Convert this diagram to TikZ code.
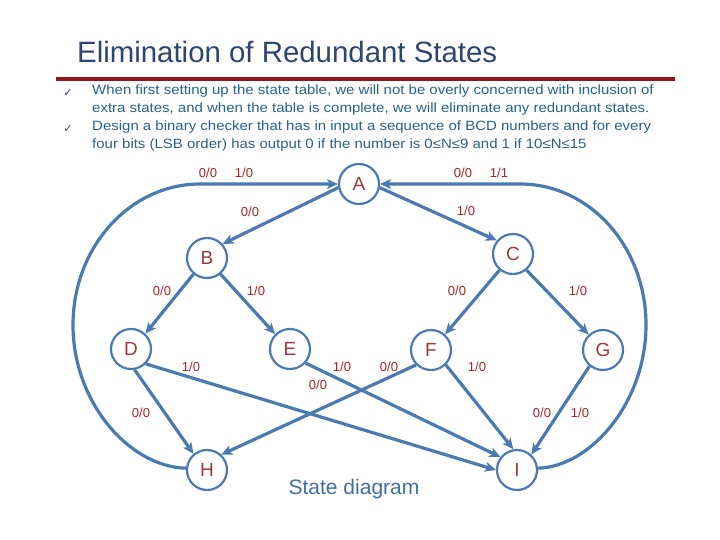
\documentclass[tikz,border=0pt]{standalone}
\usepackage{fontspec}
\setmainfont{Liberation Sans}
\newfontfamily\widefont{Liberation Sans}[FakeStretch=1.11]
\newfontfamily\symfont{DejaVu Sans}
\usetikzlibrary{arrows.meta,positioning}

\definecolor{edgeblue}{RGB}{74,122,178}
\definecolor{lblred}{RGB}{168,36,40}
\definecolor{statered}{RGB}{158,58,60}
\definecolor{titlenavy}{RGB}{44,70,112}
\definecolor{textblue}{RGB}{38,98,140}
\definecolor{checkpurple}{RGB}{84,52,140}
\definecolor{rulered}{RGB}{150,20,26}

\begin{document}
\begin{tikzpicture}[x=1pt, y=-1pt,
  state/.style={circle, draw=edgeblue, line width=2.2pt, minimum size=40pt, inner sep=0pt, text=statered, font=\fontsize{19}{19}\selectfont},
  trans/.style={draw=edgeblue, line width=3.2pt, -{Stealth[length=11pt,width=10pt,inset=3pt]}},
  lbl/.style={text=lblred, font=\fontsize{13}{13}\selectfont, inner sep=0pt},
  bullet/.style={text=textblue, anchor=west, align=left, inner sep=0pt, font=\widefont\fontsize{13.5}{18}\selectfont},
  checkmark/.style={text=checkpurple, inner sep=0pt, font=\symfont\fontsize{11}{11}\selectfont}]

    \useasboundingbox (0,0) rectangle (720,540);

    % heading
    \node[text=titlenavy, anchor=west, inner sep=0pt, font=\fontsize{29.4}{29}\selectfont] (title) at (77,52) {Elimination of Redundant States};
    \draw[rulered, line width=4pt] (56,79) -- (675,79);

    \node[checkmark] (checkA) at (68,93) {✓};
    \node[bullet, anchor=north west] (bulletA) at (92,85) {When first setting up the state table, we will not be overly concerned with inclusion of\\extra states, and when the table is complete, we will eliminate any redundant states.};
    \node[checkmark] (checkB) at (68,129) {✓};
    \node[bullet, anchor=north west] (bulletB) at (92,121) {Design a binary checker that has in input a sequence of BCD numbers and for every\\four bits (LSB order) has output 0 if the number is 0≤N≤9 and 1 if 10≤N≤15};

    % states
    \node[state] (A) at (359,184) {A};
    \node[state] (B) at (207,258) {B};
    \node[state] (C) at (513,254) {C};
    \node[state] (D) at (131,349) {D};
    \node[state] (E) at (290,349) {E};
    \node[state] (F) at (431,350) {F};
    \node[state] (G) at (603,350) {G};
    \node[state] (H) at (207,470) {H};
    \node[state] (I) at (517,470) {I};

    % transitions
    \draw[trans] (A.190) -- (B.42);
    \draw[trans] (A.-10) -- (C.140);
    \draw[trans] (B.-130) -- (D.47);
    \draw[trans] (B.-50) -- (E.135);
    \draw[trans] (C.-130) -- (F.48);
    \draw[trans] (C.-50) -- (G.133);
    \draw[trans] (D.-80) -- (H.130);
    \draw[trans] (D.-45) -- (I.180);
    \draw[trans] (E.-42) -- (I.142);
    \draw[trans] (F.-135) -- (H.47);
    \draw[trans] (F.-45) -- (I.100);
    \draw[trans] (G.-130) -- (I.47);
    \draw[trans] (H.175) .. controls (130,467) and (73,403) .. (73,325) .. controls (73,247) and (130,184) .. (200,184) -- (A.west);
    \draw[trans] (I.5) .. controls (590,467) and (646,403) .. (646,325) .. controls (646,247) and (590,184) .. (520,184) -- (A.east);

    % transition labels
    \node[lbl] (lHA) at (226,173) {0/0\hspace{18pt}1/0};
    \node[lbl] (lIA) at (481,173) {0/0\hspace{18pt}1/1};
    \node[lbl] (lAB) at (250,212) {0/0};
    \node[lbl] (lAC) at (466,211) {1/0};
    \node[lbl] (lBD) at (162,291) {0/0};
    \node[lbl] (lBE) at (256,291) {1/0};
    \node[lbl] (lCF) at (457,291) {0/0};
    \node[lbl] (lCG) at (578,291) {1/0};
    \node[lbl] (lDI) at (191,367) {1/0};
    \node[lbl] (lEI) at (342,367) {1/0};
    \node[lbl] (lEH) at (318,385) {0/0};
    \node[lbl] (lFH) at (389,367) {0/0};
    \node[lbl] (lFI) at (477,367) {1/0};
    \node[lbl] (lDH) at (141,413) {0/0};
    \node[lbl] (lGIa) at (542,413) {0/0};
    \node[lbl] (lGIb) at (580,413) {1/0};

    \node[text=edgeblue!90!black, inner sep=0pt, font=\fontsize{21}{21}\selectfont] (caption) at (354,489) {State diagram};

  \end{tikzpicture}
\end{document}
